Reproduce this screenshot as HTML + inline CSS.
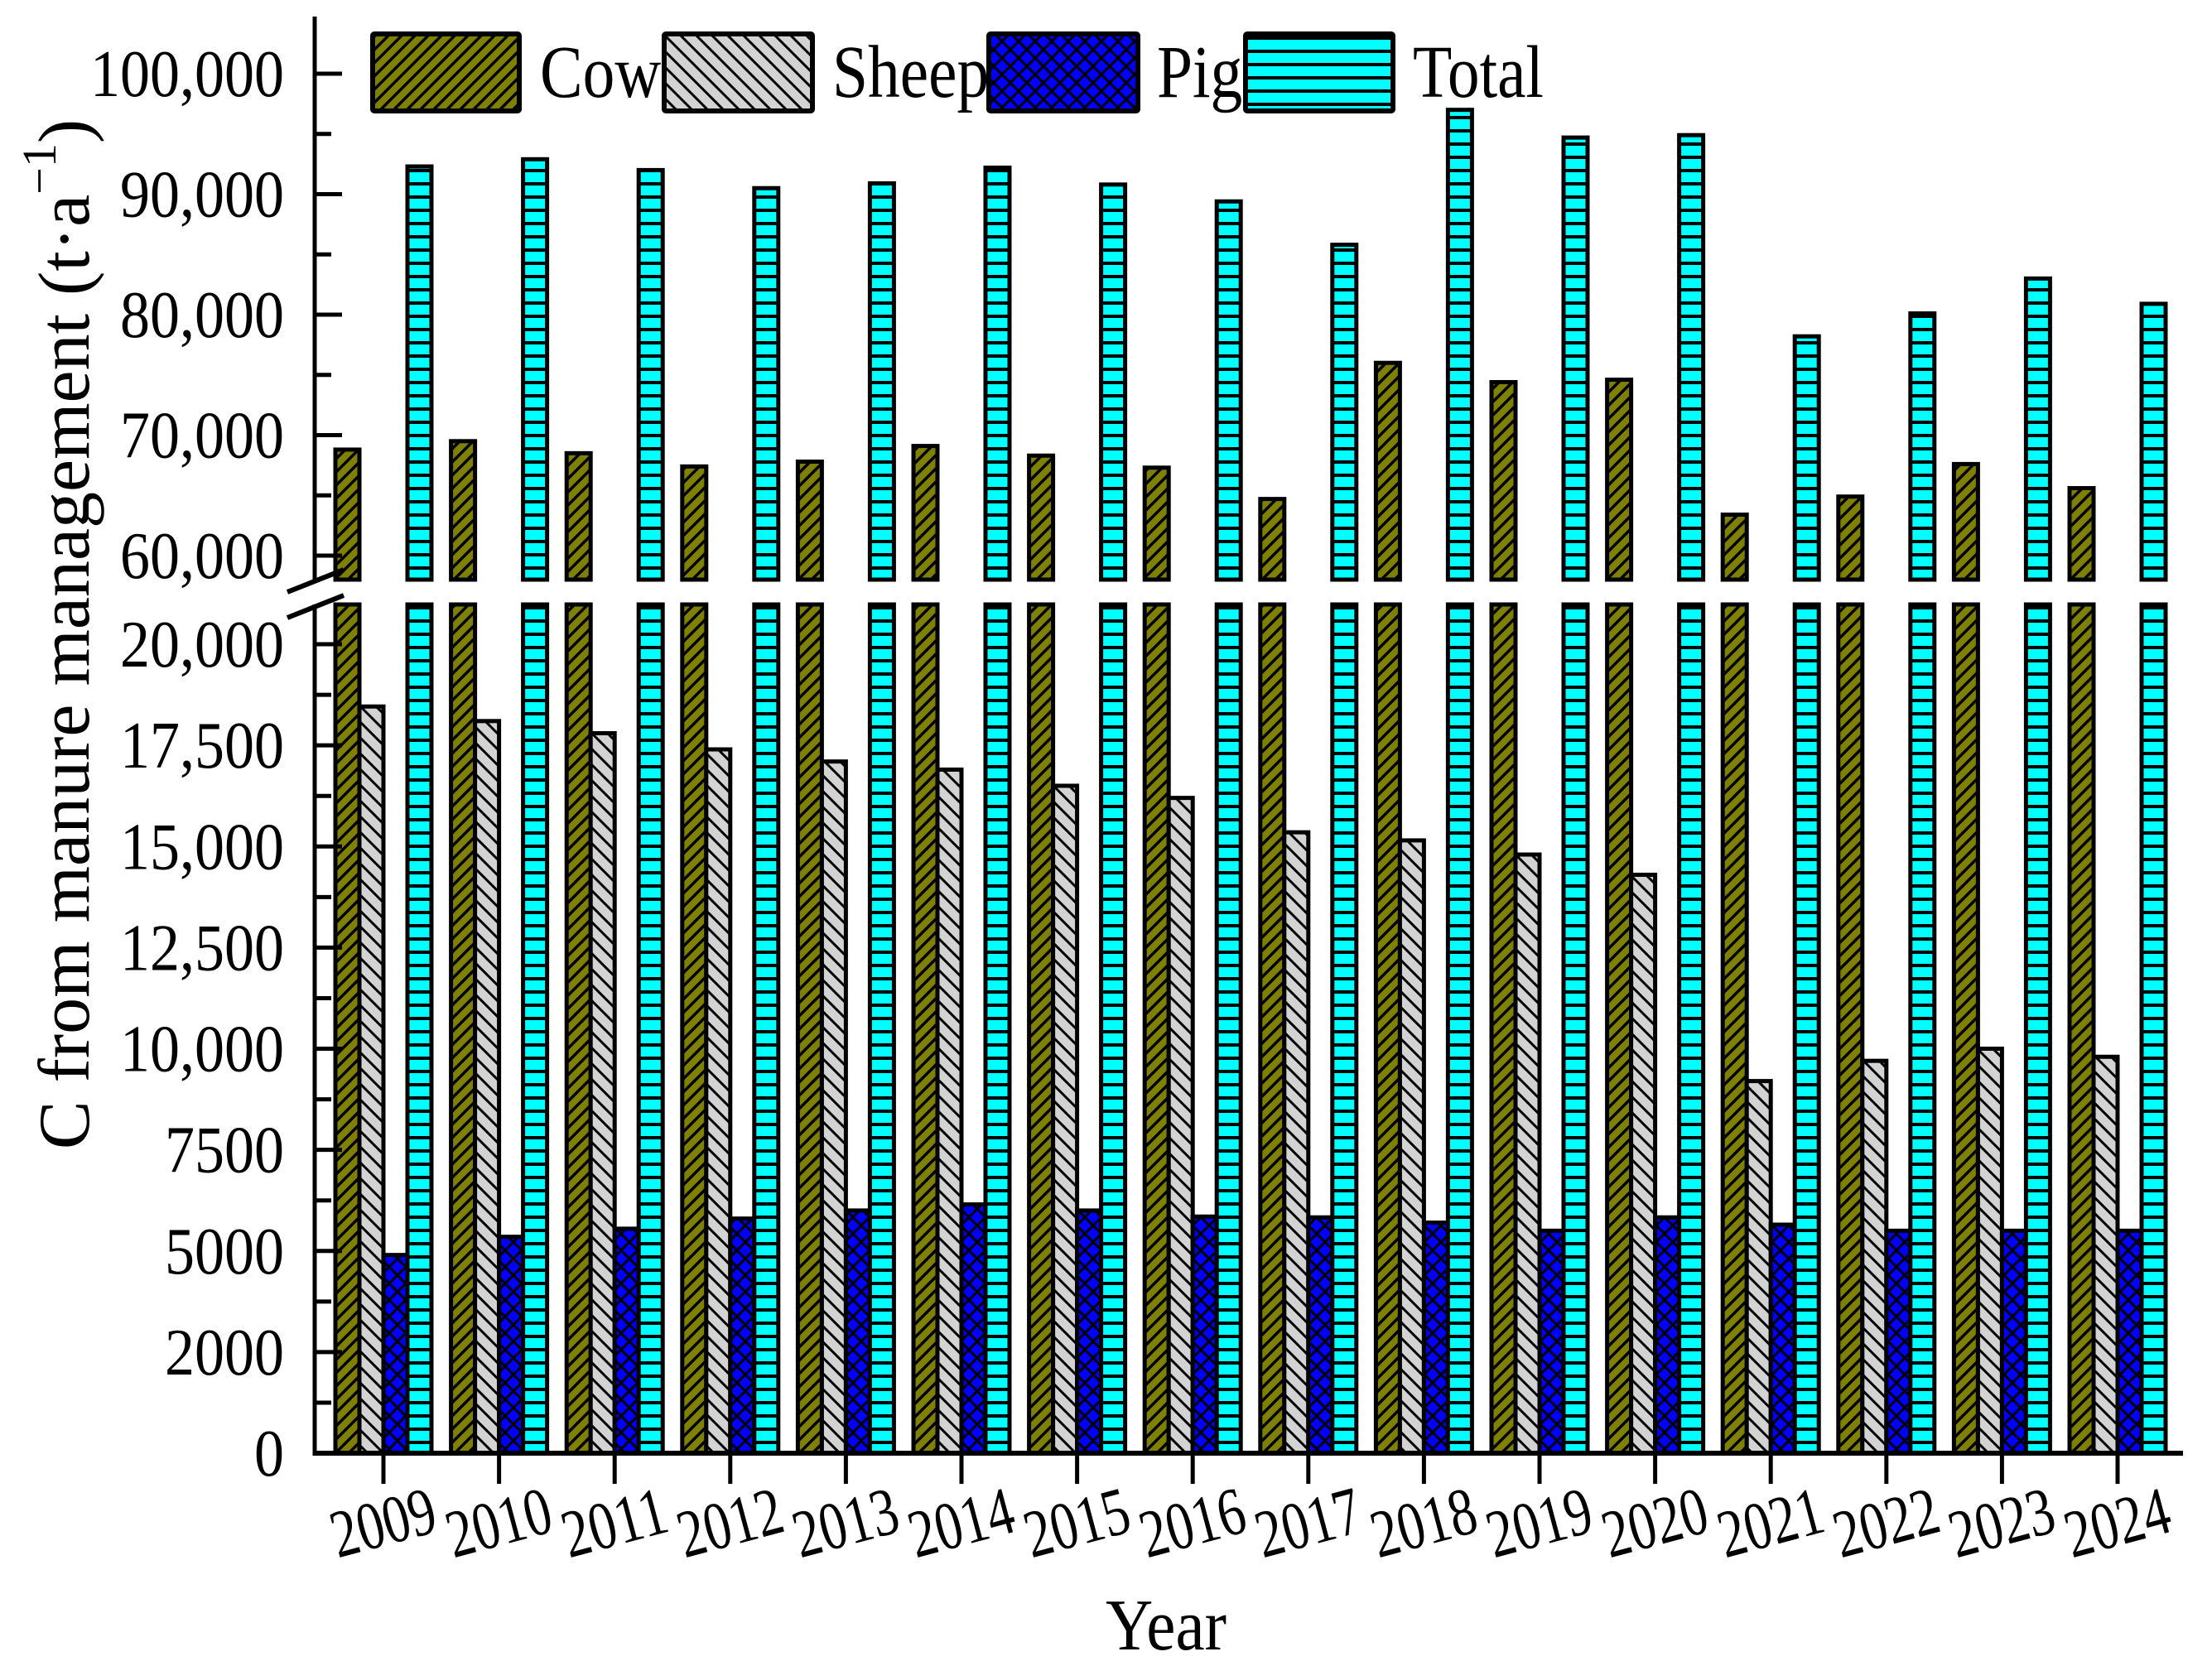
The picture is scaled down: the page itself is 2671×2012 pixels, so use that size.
<!DOCTYPE html>
<html><head><meta charset="utf-8">
<style>
html,body{margin:0;padding:0;background:#fff;}
svg{display:block;font-family:"Liberation Serif","Times New Roman",serif;}
</style></head>
<body>
<svg id="chart" width="2671" height="2012" viewBox="0 0 2671 2012" xmlns="http://www.w3.org/2000/svg">
<defs>
<pattern id="pCow" patternUnits="userSpaceOnUse" width="16" height="16">
<rect width="16" height="16" fill="#808000"/>
<path d="M-4,4 L4,-4 M0,16 L16,0 M12,20 L20,12" stroke="#000" stroke-width="3.5"/>
</pattern>
<pattern id="pSheep" patternUnits="userSpaceOnUse" width="19" height="19">
<rect width="19" height="19" fill="#d3d3d3"/>
<path d="M-4,15 L4,23 M0,0 L19,19 M15,-4 L23,4" stroke="#000" stroke-width="3"/>
</pattern>
<pattern id="pPig" patternUnits="userSpaceOnUse" width="20" height="20">
<rect width="20" height="20" fill="#0000ff"/>
<path d="M0,0 L20,20 M0,20 L20,0 M-5,5 L5,-5 M15,25 L25,15 M-5,15 L5,25 M15,-5 L25,5" stroke="#000" stroke-width="3"/>
</pattern>
<pattern id="pTotal" patternUnits="userSpaceOnUse" width="16" height="16">
<rect width="16" height="16" fill="#00ffff"/>
<rect y="12" width="16" height="4" fill="#000"/>
</pattern>
</defs>
<g id="bars"></g>
<g id="axes"></g>
<g id="legend"></g>
</svg>
<script>
const years = ["2009","2010","2011","2012","2013","2014","2015","2016","2017","2018","2019","2020","2021","2022","2023","2024"];
const cow = [68800,69500,68500,67400,67800,69100,68300,67300,64700,76000,74400,74600,63400,64900,67600,65600];
const sheep = [18460,18100,17800,17400,17100,16900,16500,16200,15350,15150,14800,14300,9200,9700,10000,9800];
const pig = [4900,5350,5550,5800,6000,6150,6000,5850,5830,5700,5500,5830,5650,5500,5500,5500];
const total = [92300,92900,92000,90500,90900,92200,90800,89400,85800,97000,94700,94900,78200,80100,83000,80900];
const upperTicks = [60000,70000,80000,90000,100000];
const upperTickLabels = ["60,000","70,000","80,000","90,000","100,000"];
const lowerTicks = [0,2500,5000,7500,10000,12500,15000,17500,20000];
const lowerTickLabels = ["0","2000","5000","7500","10,000","12,500","15,000","17,500","20,000"];

const NS="http://www.w3.org/2000/svg";
const AX=380, AXR=2636, BASE=1755, LOWTOP=730, UPBOT=700, TOP=20;
function yLow(v){return BASE - v*(BASE-778)/20000;}
function yUp(v){return 671 - (v-60000)*(671-89)/40000;}
function xC(i){return 463 + i*139.6;}
function mk(tag,attrs,parent){const e=document.createElementNS(NS,tag);for(const k in attrs)e.setAttribute(k,attrs[k]);parent.appendChild(e);return e;}
const gb=document.getElementById('bars'), ga=document.getElementById('axes'), gl=document.getElementById('legend');
const series=[{n:'cow',d:cow,p:'pCow'},{n:'sheep',d:sheep,p:'pSheep'},{n:'pig',d:pig,p:'pPig'},{n:'total',d:total,p:'pTotal'}];
const BW=29;
years.forEach((yr,i)=>{
  series.forEach((s,k)=>{
    const v=s.d[i]; const x=xC(i)-58+k*BW;
    const st={fill:'url(#'+s.p+')',stroke:'#000','stroke-width':5};
    if(v>20000*(BASE-LOWTOP)/(BASE-778)){
      const r1=mk('rect',Object.assign({x:x,y:LOWTOP,width:BW,height:BASE-LOWTOP},st),gb);
      
      
      const yt=yUp(v);
      if(yt<UPBOT){
        const r2=mk('rect',Object.assign({x:x,y:yt,width:BW,height:UPBOT-yt},st),gb);
        
        
      }
    } else {
      const yt=yLow(v);
      const r=mk('rect',Object.assign({x:x,y:yt,width:BW,height:BASE-yt},st),gb);
      
      
    }
  });
  const t=mk('line',{x1:xC(i),y1:BASE,x2:xC(i),y2:1792,stroke:'#000','stroke-width':5},ga);
  
  
  const cx=xC(i), cy=1840;
  const lab=mk('text',{x:cx,y:cy+26,'font-size':82,'text-anchor':'middle',transform:'rotate(-15 '+cx+' '+cy+')',textLength:128,lengthAdjust:'spacingAndGlyphs'},ga);
  lab.textContent=yr;
  
  
});
// axes lines
function line(x1,y1,x2,y2,w,name){const l=mk('line',{x1:x1,y1:y1,x2:x2,y2:y2,stroke:'#000','stroke-width':w},ga);return l;}
line(AX,TOP,AX,UPBOT,5,'y-axis-upper');
line(AX,LOWTOP,AX,BASE+2.5,5,'y-axis-lower');
line(AX-2.5,BASE,AXR,BASE,6,'x-axis');
line(347,715,415,688,6,'axis-break-mark');
line(347,746,415,719,6,'axis-break-mark');
function ylabel(txt,y){
  const t=mk('text',{x:343,y:y+27,'font-size':80,'text-anchor':'end'},ga);
  t.textContent=txt;
  
  
  const w=t.getComputedTextLength();
  t.setAttribute('textLength',w*0.9);t.setAttribute('lengthAdjust','spacingAndGlyphs');
}
upperTicks.forEach((v,i)=>{const y=yUp(v);line(AX,y,AX+33,y,5,'y-major-tick');ylabel(upperTickLabels[i],y);
  if(i<upperTicks.length-1){const ym=yUp(v+5000);line(AX,ym,AX+20,ym,5,'y-minor-tick');}});
lowerTicks.forEach((v,i)=>{const y=yLow(v);line(AX,y,AX+33,y,5,'y-major-tick');ylabel(lowerTickLabels[i],y);
  if(i<lowerTicks.length-1){const ym=yLow(v+1250);line(AX,ym,AX+20,ym,5,'y-minor-tick');}});
// titles
const yt=mk('text',{x:0,y:0,'font-size':88,'text-anchor':'middle',transform:'translate(107 766) rotate(-90)'},ga);


yt.innerHTML='C from manure management (t·a<tspan dy="-40" font-size="58">−1</tspan><tspan dy="40">)</tspan>';
const xt=mk('text',{x:1408,y:1992,'font-size':88,'text-anchor':'middle',textLength:146,lengthAdjust:'spacingAndGlyphs'},ga);
xt.textContent='Year';


// legend
const leg=[{n:'Cow',p:'pCow',x:450,x2:627,tx:652},{n:'Sheep',p:'pSheep',x:802,x2:981,tx:1005},{n:'Pig',p:'pPig',x:1194,x2:1374,tx:1397},{n:'Total',p:'pTotal',x:1504,x2:1682,tx:1706}];
leg.forEach(o=>{
  const r=mk('rect',{x:o.x,y:41,width:o.x2-o.x,height:93,fill:'url(#'+o.p+')',stroke:'#000','stroke-width':6,rx:2},gl);
  
  
  const t=mk('text',{x:o.tx,y:117,'font-size':90},gl);
  t.textContent=o.n;
  
  
  const w=t.getComputedTextLength();
  t.setAttribute('textLength',w*0.86);t.setAttribute('lengthAdjust','spacingAndGlyphs');
});
</script>
</body></html>
